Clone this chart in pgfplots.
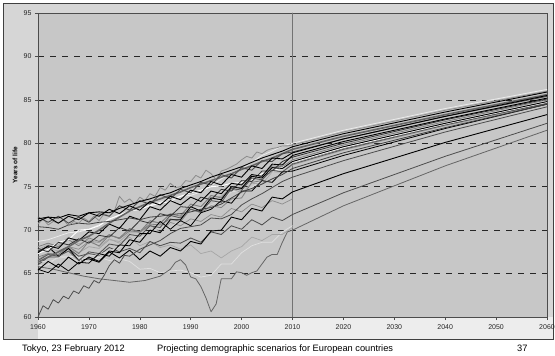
\documentclass[border=0pt]{standalone}
\usepackage{fontspec}
\setmainfont{Liberation Sans}
\usepackage{pgfplots}
\usepackage{pgfplotstable}
\pgfplotsset{compat=1.18}

% Male life expectancy, observed (biennial) to 2010 and projected to 2060
\pgfplotstableread{
yr   A1   A2   A3   A5   B1   B2   B3   B4   B5   B6   B7   B8   B9   B10  B11  B13  C1   C2   L1   L3   L4
1960 71.3 71.5 71.0 70.4 66.3 67.4 66.9 67.9 67.3 68.7 67.7 65.4 66.5 65.5 68.1 66.5 67.6 66.0 66.6 65.9 67.8
1962 71.5 70.9 71.5 70.3 66.9 68.2 67.3 67.5 67.8 68.9 67.9 66.4 67.2 65.1 68.5 66.3 68.1 66.9 67.3 66.0 68.3
1964 71.4 71.6 70.8 70.1 67.5 67.9 67.2 68.6 68.6 69.3 67.6 65.7 67.0 66.1 68.1 66.8 67.0 66.9 67.2 67.0 68.3
1966 71.8 70.8 71.6 70.6 68.1 69.1 68.1 68.3 68.9 69.7 68.1 66.9 67.6 65.3 68.9 66.9 67.9 67.9 68.1 67.0 69.2
1968 71.6 71.5 71.2 70.8 68.8 68.8 67.3 69.0 70.0 69.8 67.4 66.1 66.5 66.3 68.2 66.4 66.5 67.0 67.8 66.9 68.4
1970 72.0 70.9 72.0 70.7 69.3 69.8 68.7 68.5 70.1 70.1 68.1 66.9 67.5 66.2 69.1 67.0 66.7 67.3 68.7 66.3 68.9
1972 72.1 71.9 71.6 70.9 70.0 69.6 68.2 69.4 70.5 70.6 67.9 66.4 67.3 67.3 68.7 67.2 66.3 67.1 68.6 66.9 68.1
1974 72.0 71.6 72.4 71.0 70.8 70.7 69.4 69.2 71.3 71.2 68.9 67.6 68.4 67.0 69.5 67.6 67.5 68.0 69.4 66.5 69.0
1976 72.5 72.8 71.9 71.2 71.5 70.2 69.1 70.3 71.7 71.8 68.7 67.4 68.2 68.3 69.0 68.0 66.8 67.5 69.1 66.7 68.5
1978 72.9 72.3 72.8 71.4 72.2 71.6 70.2 69.9 72.2 72.2 69.7 68.9 69.5 68.2 69.9 68.8 67.7 67.9 70.1 66.4 69.2
1980 73.3 73.4 72.3 71.2 72.7 71.2 69.8 71.1 72.4 72.4 69.7 68.6 69.3 69.6 69.8 69.1 66.6 67.4 69.7 65.5 68.2
1982 73.6 73.0 73.3 71.5 73.2 72.7 71.1 70.8 72.8 72.9 71.0 70.0 70.5 69.6 70.7 69.6 67.6 68.7 70.6 65.6 68.7
1984 74.0 74.1 72.9 71.6 73.6 72.3 70.8 71.9 73.1 73.2 70.8 69.7 70.3 71.0 70.6 70.4 67.0 68.2 69.8 65.1 68.0
1986 74.3 73.6 73.9 71.8 74.0 73.4 71.9 71.6 73.3 73.6 71.8 71.2 71.7 70.1 71.3 70.3 68.0 68.6 70.9 65.3 68.3
1988 74.8 74.7 73.5 71.9 74.4 72.9 71.6 72.7 73.9 73.9 71.7 71.2 71.4 71.1 71.0 71.2 67.6 68.5 70.5 65.4 67.8
1990 75.2 74.3 74.6 72.1 74.9 73.8 73.0 72.6 74.3 74.0 73.0 72.7 72.4 70.5 72.4 72.3 68.7 69.1 71.3 65.1 68.3
1992 75.6 75.5 74.3 72.4 75.3 73.3 72.7 73.8 74.6 74.4 72.7 72.2 72.1 72.0 72.0 72.6 68.4 68.6 71.0 64.6 67.3
1994 76.1 75.2 75.6 72.6 75.7 74.5 74.0 73.5 75.0 75.1 73.8 73.7 73.4 72.4 72.8 72.9 69.9 69.8 71.8 64.8 67.6
1996 76.5 76.4 75.2 73.0 76.1 74.2 73.7 74.7 75.1 75.9 73.9 73.5 73.2 73.4 72.6 73.5 70.0 69.5 71.5 66.1 66.8
1998 76.9 76.0 76.4 73.7 76.5 75.4 75.0 74.5 75.4 76.6 74.8 75.0 74.8 73.1 73.6 74.4 71.5 70.5 72.5 66.1 67.6
2000 77.3 77.2 76.1 74.4 77.0 75.2 74.9 75.7 75.5 77.0 74.3 74.8 74.6 74.5 73.7 74.6 71.2 70.1 72.1 67.4 68.1
2002 77.8 76.9 77.4 74.8 77.4 76.4 76.2 75.6 75.8 77.8 75.4 76.2 76.0 74.5 75.5 74.9 72.5 71.2 73.0 68.2 69.2
2004 78.3 78.0 77.1 75.3 77.9 76.2 76.2 76.8 76.5 78.6 75.3 76.0 75.8 75.7 75.7 75.8 72.2 70.6 72.6 68.6 68.8
2006 78.7 77.9 78.3 75.9 78.3 77.6 77.4 76.8 76.8 79.1 76.7 77.2 76.9 75.5 77.2 76.6 73.8 71.5 73.4 68.6 69.5
2008 79.1 78.8 78.2 76.4 78.8 77.5 77.3 77.9 77.2 79.7 76.7 77.1 76.7 76.7 77.1 77.0 73.6 71.1 73.0 69.8 69.5
2010 79.6 79.0 78.9 77.1 79.3 78.6 78.1 78.4 77.8 80.0 77.5 77.9 77.6 76.8 77.8 78.0 74.4 71.8 73.6 70.5 70.3
2020 81.1 80.5 80.5 78.9 80.8 80.2 79.8 80.0 79.5 81.5 79.2 79.6 79.3 78.6 79.4 79.7 76.5 74.3 nan  nan  nan
2040 83.6 83.1 83.1 81.8 83.3 82.8 82.5 82.7 82.2 84.0 82.0 82.3 82.1 81.7 82.2 82.4 80.1 78.5 nan  nan  nan
2060 85.9 85.4 85.5 84.5 85.6 85.2 85.0 85.1 84.7 86.2 84.5 84.8 84.6 84.5 84.6 84.9 83.3 82.3 nan  nan  nan
}\lifedata

\begin{document}
\begin{tikzpicture}
\path[use as bounding box] (0bp,0bp) rectangle (555bp,356bp);
% slide frame and chart area
\fill[white] (0bp,0bp) rectangle (555bp,356bp);
\fill[black!16] (3bp,17bp) rectangle (553bp,353bp);
\fill[black!7] (38bp,17bp) rectangle (553bp,39bp);
\draw[black!75, line width=0.7pt] (3bp,17bp) rectangle (553bp,353bp);

\begin{axis}[
  at={(38bp,39bp)}, anchor=south west,
  scale only axis, width=509bp, height=304bp,
  xmin=1960, xmax=2060, ymin=60, ymax=95,
  xtick={1960,1970,...,2060}, ytick={60,65,...,95},
  xticklabel style={/pgf/number format/1000 sep={}, yshift=-1.5bp},
  /pgf/number format/assume math mode=true,
  ticklabel style={font=\fontsize{7}{8}\selectfont, text=black!85},
  tick align=outside, major tick length=3bp,
  tick style={black!70, line width=0.5pt},
  xtick pos=bottom, ytick pos=left,
  axis background/.style={fill=black!22},
  axis line style={black!70, line width=0.6pt},
  ymajorgrids,
  grid style={black!85, line width=0.6pt, dash pattern=on 6bp off 6bp},
  ylabel={\textbf{Years of life}},
  ylabel style={font=\fontsize{6.5}{8}\selectfont, at={(axis description cs:-0.045,0.5)}, anchor=center},
  clip=true,
  every axis plot/.append style={line join=round, line cap=round},
]
% separation between observed and projected values
\addplot[black!55, line width=0.7pt] coordinates {(2010,60) (2010,95)};

\addplot[black!12, line width=0.7pt] table[x=yr, y=L3] {\lifedata};
\addplot[black!35, line width=0.7pt] table[x=yr, y=L4] {\lifedata};
\addplot[black!45, line width=0.7pt] table[x=yr, y=L1] {\lifedata};

% Estonia-like series with the mid-1990s dip
\addplot[black!60, line width=0.8pt] coordinates {
(1960,65.8) (1963,65.5) (1966,65.1) (1969,64.7) (1972,64.4) (1975,64.2) (1978,64.0)
(1981,64.2) (1984,64.7) (1986,65.5) (1987,66.3) (1988,66.6) (1989,66.0) (1990,64.6)
(1991,64.4) (1992,63.5) (1993,62.2) (1994,60.6) (1995,61.5) (1996,64.4) (1997,64.4)
(1998,64.4) (1999,65.2) (2000,65.1) (2001,64.8) (2002,65.1) (2003,65.3) (2004,66.1)
(2005,66.9) (2006,67.2) (2007,67.2) (2008,68.6) (2009,69.8) (2010,70.0)
(2020,72.8) (2040,77.4) (2060,81.5)};

\addplot[black!70, line width=0.8pt] table[x=yr, y=C2] {\lifedata};
\addplot[black, line width=0.9pt] table[x=yr, y=C1] {\lifedata};

% Portugal-like series starting near 60
\addplot[black!70, line width=0.8pt] coordinates {
(1960,60.0) (1961,61.3) (1962,60.9) (1963,62.0) (1964,61.6) (1965,62.4) (1966,62.1)
(1967,63.0) (1968,62.7) (1969,63.6) (1970,63.3) (1971,64.2) (1972,63.9) (1973,64.8)
(1974,65.9) (1975,66.6) (1976,66.2) (1977,67.1) (1978,67.0) (1980,67.8) (1982,68.3)
(1984,68.8) (1986,69.6) (1988,70.2) (1990,70.4) (1992,70.6) (1994,71.4) (1996,71.3)
(1998,71.8) (2000,72.9) (2002,73.6) (2004,74.2) (2006,74.9) (2008,75.6) (2010,76.1)
(2020,78.0) (2040,81.3) (2060,84.2)};

\addplot[black!15, line width=0.8pt] table[x=yr, y=B13] {\lifedata};
\addplot[black!35, line width=0.8pt] table[x=yr, y=B7] {\lifedata};
\addplot[black!50, line width=0.8pt] table[x=yr, y=B11] {\lifedata};
\addplot[black!50, line width=0.8pt] table[x=yr, y=B3] {\lifedata};
\addplot[black!8, line width=0.8pt] table[x=yr, y=B6] {\lifedata};
\addplot[white, line width=0.9pt] table[x=yr, y=B5] {\lifedata};
\addplot[black!65, line width=0.9pt] table[x=yr, y=B9] {\lifedata};
\addplot[black, line width=0.8pt] table[x=yr, y=B10] {\lifedata};
\addplot[black, line width=0.9pt] table[x=yr, y=B8] {\lifedata};
\addplot[black!80, line width=0.8pt] table[x=yr, y=B4] {\lifedata};
\addplot[black, line width=0.9pt] table[x=yr, y=B2] {\lifedata};
\addplot[black!60, line width=1.6pt] table[x=yr, y=B1] {\lifedata};

\addplot[black!75, line width=0.8pt] table[x=yr, y=A5] {\lifedata};

% Iceland-like series, yearly and jagged
\addplot[black!45, line width=0.8pt] coordinates {
(1960,70.7) (1961,71.3) (1962,70.6) (1963,71.0) (1964,70.8) (1965,71.2) (1966,70.5)
(1967,71.0) (1968,70.8) (1969,71.4) (1970,71.0) (1971,71.6) (1972,71.1) (1973,71.9)
(1974,71.6) (1975,72.2) (1976,73.9) (1977,73.2) (1978,73.6) (1979,73.0) (1980,73.8)
(1981,73.4) (1982,74.2) (1983,73.9) (1984,74.9) (1985,74.6) (1986,75.4) (1987,74.9)
(1988,75.0) (1989,75.7) (1990,75.6) (1991,76.3) (1992,76.0) (1993,76.9) (1994,76.5)
(1995,75.8) (1996,76.8) (1997,77.0) (1998,77.3) (1999,77.6) (2000,78.1) (2001,78.5)
(2002,78.3) (2003,79.0) (2004,78.8) (2005,79.2) (2006,79.4) (2007,79.5) (2008,79.7)
(2009,79.7) (2010,79.8) (2020,81.3) (2040,83.8) (2060,86.0)};

\addplot[black!70, line width=0.9pt] table[x=yr, y=A2] {\lifedata};
\addplot[black, line width=0.9pt] table[x=yr, y=A3] {\lifedata};
\addplot[black, line width=0.9pt] table[x=yr, y=A1] {\lifedata};
\end{axis}

% slide footer
\node[anchor=base west, font=\fontsize{9.3}{11}\selectfont, inner sep=0pt] at (22bp,5bp) {Tokyo, 23 February 2012};
\node[anchor=base west, font=\fontsize{9.3}{11}\selectfont, inner sep=0pt] at (157bp,5bp) {Projecting demographic scenarios for European countries};
\node[anchor=base west, font=\fontsize{9.3}{11}\selectfont, inner sep=0pt] at (517bp,5bp) {37};
\end{tikzpicture}
\end{document}
